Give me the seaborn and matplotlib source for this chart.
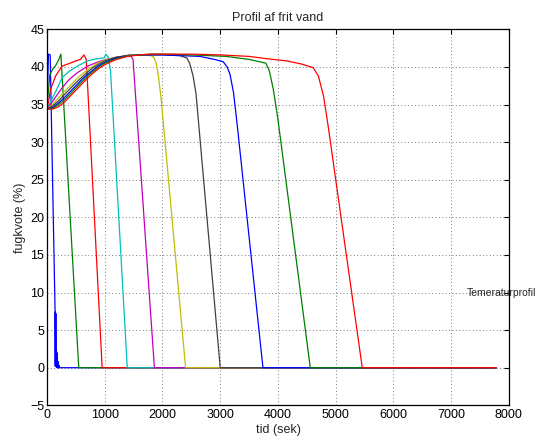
import matplotlib
matplotlib.use("Agg")
import matplotlib.pyplot as plt
import seaborn as sns
import pandas as pd

# Free-water moisture profiles (%) over time (s), one curve per layer
END_T = 7780
RISE_T = [0, 100, 200, 300, 400, 500, 600, 700, 800, 900, 1000, 1200, 1400, 1600, 1800]

t1 = [0, 25, 55, 140, 143, 146, 149, 152, 155, 158, 161, 164, 167, 170, 173, 176,
      179, 182, 185, 188, 191, 194, 197, 200, 203, 206, 210, END_T]
v1 = [34.4, 41.7, 41.6, 7.5, 0.2, 7.4, 0.2, 7.2, 0.2, 2.3, 0.1, 2.2, 0.1, 2.0, 0.1, 1.0,
      0.0, 0.9, 0.0, 0.8, 0.0, 0.3, 0.0, 0.3, 0.0, 0.3, 0.0, 0.0]

t2 = [0, 20, 50, 100, 150, 200, 240, 550, END_T]
v2 = [34.4, 36.5, 39.0, 39.7, 40.2, 40.9, 41.7, 0.0, 0.0]

t3 = [0, 30, 60, 150, 260, 400, 500, 580, 640, 680, 955, END_T]
v3 = [34.4, 35.5, 37.0, 38.8, 40.1, 40.5, 40.8, 41.0, 41.6, 41.0, 0.0, 0.0]

t4 = [0, 60, 180, 265, 380, 525, 700, 870, 990, 1020, 1060, 1100, 1390, END_T]
v4 = [34.4, 35.3, 37.2, 38.6, 39.4, 40.1, 40.8, 41.1, 41.2, 41.7, 41.3, 39.5, 0.0, 0.0]

t5 = [0, 60, 240, 380, 520, 700, 930, 1150, 1300, 1440, 1490, 1860, END_T]
v5 = [34.4, 35.0, 37.0, 38.3, 39.2, 40.1, 40.8, 41.2, 41.4, 41.6, 41.0, 0.0, 0.0]

t6 = RISE_T + [1850, 1890, 1930, 1980, 2400, END_T]
v6 = [34.4, 35.0, 35.9, 36.7, 37.5, 38.3, 39.0, 39.6, 40.1, 40.6, 40.9, 41.3, 41.5, 41.6, 41.5,
      41.3, 40.5, 38.8, 35.5, 0.0, 0.0]

t7 = RISE_T + [2000, 2300, 2420, 2470, 2530, 2580, 3000, END_T]
v7 = [34.4, 34.8, 35.5, 36.3, 37.1, 37.9, 38.6, 39.3, 39.9, 40.4, 40.8, 41.3, 41.5, 41.6, 41.6,
      41.6, 41.5, 41.2, 40.5, 38.8, 36.5, 0.0, 0.0]

t8 = RISE_T + [2000, 2650, 2900, 3050, 3120, 3170, 3230, 3290, 3740, END_T]
v8 = [34.4, 34.6, 35.2, 35.9, 36.7, 37.5, 38.3, 39.0, 39.6, 40.2, 40.6, 41.2, 41.5, 41.6, 41.6,
      41.6, 41.4, 41.0, 40.7, 40.0, 39.0, 36.6, 32.6, 0.0, 0.0]

t9 = RISE_T + [2000, 2500, 3100, 3500, 3790, 3850, 3920, 4000, 4560, END_T]
v9 = [34.4, 34.5, 35.0, 35.6, 36.4, 37.2, 38.0, 38.8, 39.4, 40.0, 40.5, 41.1, 41.5, 41.6, 41.7,
      41.7, 41.6, 41.4, 41.0, 40.5, 39.5, 37.0, 33.0, 0.0, 0.0]

t10 = RISE_T + [2000, 2500, 3000, 3500, 3800, 4150, 4400, 4610, 4700, 4790, 4870, 5460, END_T]
v10 = [34.4, 34.4, 34.7, 35.3, 36.1, 36.9, 37.7, 38.5, 39.2, 39.8, 40.3, 41.0, 41.4, 41.6, 41.7,
       41.7, 41.7, 41.6, 41.4, 41.1, 40.8, 40.4, 39.9, 38.8, 36.1, 32.1, 0.0, 0.0]

profiles = [(t1, v1), (t2, v2), (t3, v3), (t4, v4), (t5, v5),
            (t6, v6), (t7, v7), (t8, v8), (t9, v9), (t10, v10)]

# classic colour cycle: b g r c m y k, repeating
colors = ["#0000ff", "#008000", "#ff0000", "#00bfbf", "#bf00bf",
          "#bfbf00", "#404040", "#0000ff", "#008000", "#ff0000"]

title = "Profil af frit vand"
xlabel = "tid (sek)"
ylabel = "fugkvote (%)"
note = "Temeraturprofil"
note_pos = (7270, 10)
xticks = list(range(0, 8001, 1000))
yticks = list(range(-5, 46, 5))

rows = []
for i, (tt, vv) in enumerate(profiles):
    for a, b in zip(tt, vv):
        rows.append({"t": a, "v": b, "profil": i})
df = pd.DataFrame(rows)

sns.set_style("white")
plt.rcParams["font.family"] = ["Liberation Sans", "DejaVu Sans"]

fig = plt.figure(figsize=(5.39, 4.43), dpi=100)
ax = fig.add_axes([0.0872, 0.0851, 0.857, 0.8487])

sns.lineplot(data=df, x="t", y="v", hue="profil", palette=colors, sort=False,
             estimator=None, legend=False, linewidth=0.9, ax=ax)

ax.set_xlim(0, 8000)
ax.set_ylim(-5, 45)
ax.set_xticks(xticks)
ax.set_yticks(yticks)
ax.grid(True, color="#7a7a7a", linestyle=(0, (1, 2.5)), linewidth=0.7)
ax.tick_params(direction="in", length=3.5, width=0.8, top=True, right=True,
               labelsize=9, colors="black")
ax.tick_params(axis="y", pad=2)
ax.tick_params(axis="x", pad=3)
for s in ax.spines.values():
    s.set_visible(True)
    s.set_color("black")
    s.set_linewidth(0.9)

ax.set_title(title, fontsize=9, pad=6)
ax.set_xlabel(xlabel, fontsize=9, labelpad=2)
ax.set_ylabel(ylabel, fontsize=9, labelpad=3)
ax.text(note_pos[0], note_pos[1], note, fontsize=7.5, ha="left", va="center",
        clip_on=False, zorder=1)

fig.savefig("out.png", dpi=100, facecolor="white")
